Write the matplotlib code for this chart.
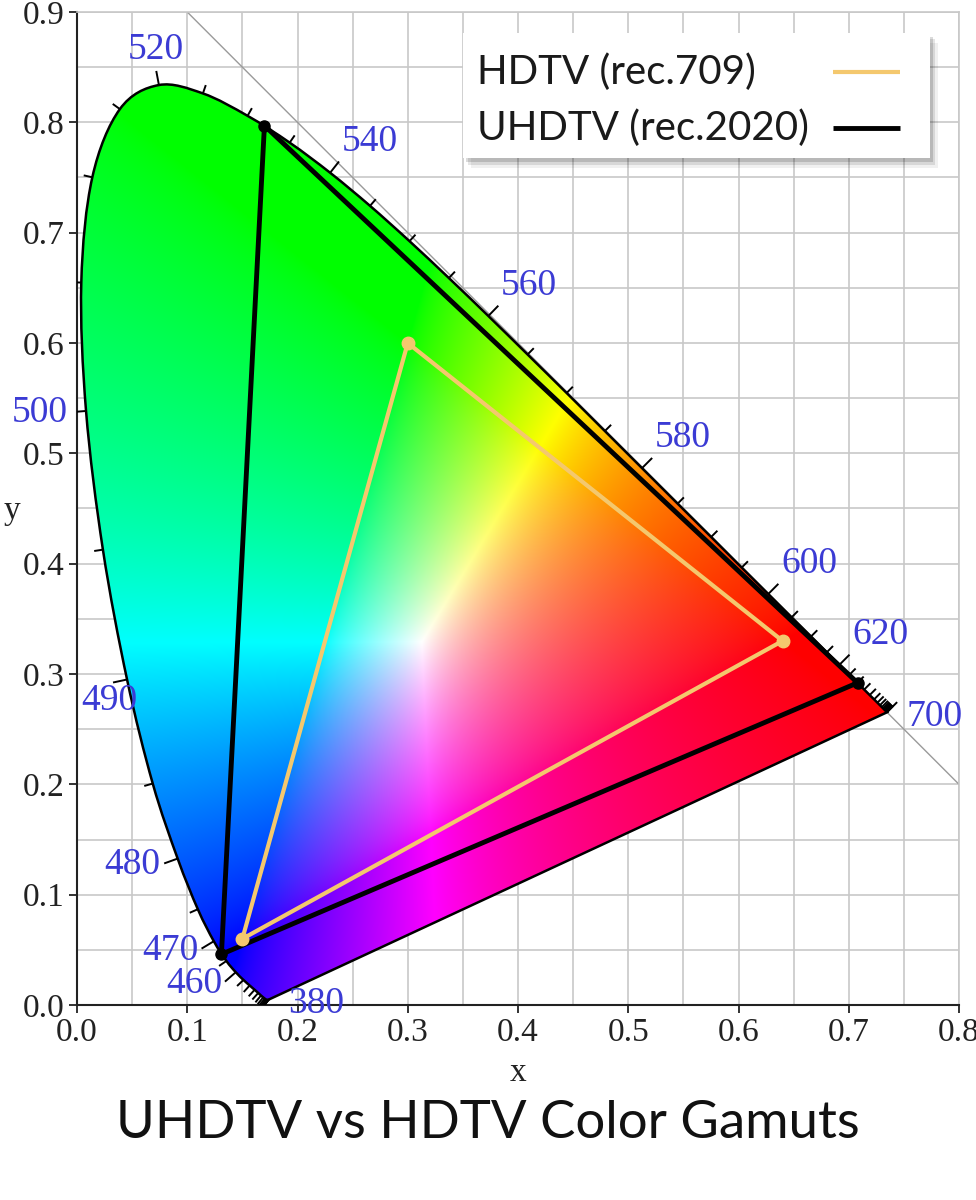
import numpy as np
import matplotlib.pyplot as plt
from matplotlib.patches import PathPatch, Rectangle
from matplotlib.path import Path
from matplotlib.ticker import MultipleLocator

# CIE 1931 spectral locus (2 deg observer), every 5 nm
wavelengths = [380, 385, 390, 395, 400, 405, 410, 415, 420, 425, 430, 435, 440,
               445, 450, 455, 460, 465, 470, 475, 480, 485, 490, 495, 500, 505,
               510, 515, 520, 525, 530, 535, 540, 545, 550, 555, 560, 565, 570,
               575, 580, 585, 590, 595, 600, 605, 610, 615, 620, 625, 630, 635,
               640, 645, 650, 655, 660, 665, 670, 675, 680, 685, 690, 695, 700]
locus_x = [0.1741, 0.1740, 0.1738, 0.1736, 0.1733, 0.1730, 0.1726, 0.1721, 0.1714,
           0.1703, 0.1689, 0.1669, 0.1644, 0.1611, 0.1566, 0.1510, 0.1440, 0.1355,
           0.1241, 0.1096, 0.0913, 0.0687, 0.0454, 0.0235, 0.0082, 0.0039, 0.0139,
           0.0389, 0.0743, 0.1142, 0.1547, 0.1929, 0.2296, 0.2658, 0.3016, 0.3373,
           0.3731, 0.4087, 0.4441, 0.4788, 0.5125, 0.5448, 0.5752, 0.6029, 0.6270,
           0.6482, 0.6658, 0.6801, 0.6915, 0.7006, 0.7079, 0.7140, 0.7190, 0.7230,
           0.7260, 0.7283, 0.7300, 0.7311, 0.7320, 0.7327, 0.7334, 0.7340, 0.7344,
           0.7346, 0.7347]
locus_y = [0.0050, 0.0050, 0.0049, 0.0049, 0.0048, 0.0048, 0.0048, 0.0048, 0.0051,
           0.0058, 0.0069, 0.0086, 0.0109, 0.0138, 0.0177, 0.0227, 0.0297, 0.0399,
           0.0578, 0.0868, 0.1327, 0.2007, 0.2950, 0.4127, 0.5384, 0.6548, 0.7502,
           0.8120, 0.8338, 0.8262, 0.8059, 0.7816, 0.7543, 0.7243, 0.6923, 0.6589,
           0.6245, 0.5896, 0.5547, 0.5202, 0.4866, 0.4544, 0.4242, 0.3965, 0.3725,
           0.3514, 0.3340, 0.3197, 0.3083, 0.2993, 0.2920, 0.2859, 0.2809, 0.2770,
           0.2740, 0.2717, 0.2700, 0.2689, 0.2680, 0.2673, 0.2666, 0.2660, 0.2656,
           0.2654, 0.2653]
labelled_nm = [380, 460, 470, 480, 490, 500, 520, 540, 560, 580, 600, 620, 700]

rec709_x = [0.64, 0.30, 0.15]
rec709_y = [0.33, 0.60, 0.06]
rec2020_x = [0.708, 0.170, 0.131]
rec2020_y = [0.292, 0.797, 0.046]
legend_labels = ['HDTV (rec.709)', 'UHDTV (rec.2020)']


def xy_to_rgb(x, y):
    y = np.maximum(y, 1e-4)
    xyz = np.stack([x / y, np.ones_like(x), (1 - x - y) / y], axis=-1)
    m = np.array([[3.2406, -1.5372, -0.4986],
                  [-0.9689, 1.8758, 0.0415],
                  [0.0557, -0.2040, 1.0570]])
    rgb = np.clip(xyz @ m.T, 0, None)
    rgb = rgb / (rgb.max(axis=-1, keepdims=True) + 1e-12)
    return np.clip(rgb ** (1 / 1.4), 0, 1)


def smooth_path(p):
    # catmull-rom through the locus points, straight purple line back
    verts = [p[0]]
    codes = [Path.MOVETO]
    for i in range(len(p) - 1):
        p0 = p[max(i - 1, 0)]
        p1, p2 = p[i], p[i + 1]
        p3 = p[min(i + 2, len(p) - 1)]
        verts += [p1 + (p2 - p0) / 6, p2 - (p3 - p1) / 6, p2]
        codes += [Path.CURVE4] * 3
    verts += [p[0], p[0]]
    codes += [Path.LINETO, Path.CLOSEPOLY]
    return Path(np.array(verts), codes)


plt.rcParams['font.family'] = ['Liberation Serif', 'DejaVu Serif']
fig = plt.figure(figsize=(9.76, 12), dpi=100)
ax = fig.add_axes([77 / 976, 1 - 1005 / 1200, 882 / 976, 993 / 1200])

# colour fill clipped to the locus
gx, gy = np.meshgrid(np.linspace(0, 0.8, 640), np.linspace(0, 0.9, 720))
pts = np.column_stack([locus_x, locus_y])
outline = PathPatch(smooth_path(pts), facecolor='none', edgecolor='black',
                    lw=1.8, zorder=3)
ax.add_patch(outline)
im = ax.imshow(xy_to_rgb(gx, gy), extent=(0, 0.8, 0, 0.9), origin='lower',
               interpolation='bilinear', aspect='auto', zorder=2)
im.set_clip_path(outline)

# x + y = 1 line
ax.plot([0.1, 0.8], [0.9, 0.2], color='#9a9a9a', lw=1.0, zorder=1.5)

# wavelength ticks and labels
n = len(pts)
blue = '#3b3bd4'
for i, nm in enumerate(wavelengths):
    p = pts[i]
    j = i
    while j < n - 1 and np.hypot(*(pts[j] - p)) < 0.03:
        j += 1
    k = i
    while k > 0 and np.hypot(*(pts[k] - p)) < 0.03:
        k -= 1
    t = pts[j] - pts[k]
    t = t / np.hypot(*t)
    nrm = np.array([-t[1], t[0]])
    big = nm in labelled_nm
    L = 0.013 if big else 0.008
    ax.plot([p[0], p[0] + L * nrm[0]], [p[1], p[1] + L * nrm[1]],
            color='black', lw=1.4, zorder=4, solid_capstyle='butt')
    if not big:
        continue
    if i == 0 or i == n - 1:
        off, ha, va = (14, -3), 'left', 'center'
    else:
        off = (nrm[0] * 13, nrm[1] * 13)
        ha = 'right' if nrm[0] < -0.5 else 'left' if nrm[0] > 0.5 else 'center'
        va = 'top' if nrm[1] < -0.68 else 'bottom' if nrm[1] > 0.68 else 'center'
        if nm == 490:
            ha, va = 'center', 'top'
    ax.annotate(str(nm), p, xytext=off, textcoords='offset points', ha=ha,
                va=va, color=blue, fontsize=27, zorder=5)

# gamut triangles
c709 = '#f4c86e'
ax.fill(rec2020_x, rec2020_y, facecolor='none', edgecolor='black', lw=3.5,
        zorder=6, joinstyle='round')
ax.plot(rec2020_x, rec2020_y, 'o', color='black', ms=8, zorder=6)
ax.fill(rec709_x, rec709_y, facecolor='none', edgecolor=c709, lw=3, zorder=7,
        joinstyle='round')
ax.plot(rec709_x, rec709_y, 'o', color=c709, ms=9, zorder=7)

ax.set_xlim(0, 0.8)
ax.set_ylim(0, 0.9)
ax.xaxis.set_major_locator(MultipleLocator(0.1))
ax.yaxis.set_major_locator(MultipleLocator(0.1))
ax.xaxis.set_minor_locator(MultipleLocator(0.05))
ax.yaxis.set_minor_locator(MultipleLocator(0.05))
ax.xaxis.set_major_formatter(lambda v, pos: f'{v:.1f}')
ax.yaxis.set_major_formatter(lambda v, pos: f'{v:.1f}')
ax.grid(which='both', color='#c8c8c8', lw=1.2, zorder=0)
ax.set_axisbelow(True)
ax.tick_params(which='major', direction='out', length=6, width=1.3,
               labelsize=24, pad=3, colors='#222222')
ax.tick_params(which='minor', length=0)
for s in ['top', 'right']:
    ax.spines[s].set_color('#c8c8c8')
    ax.spines[s].set_linewidth(1.2)
for s in ['left', 'bottom']:
    ax.spines[s].set_color('#222222')
    ax.spines[s].set_linewidth(1.5)

ax.set_xlabel('x', fontsize=24, labelpad=7, color='#222222')
ax.set_ylabel('y', fontsize=24, rotation=0, color='#222222', va='center')
ax.yaxis.set_label_coords(-0.074, 0.498)

# legend box drawn by hand so the labels stay left aligned
bx0, bx1, by0, by1 = 0.4376, 0.967, 0.853, 0.979
for d, a in [(0.009, 0.06), (0.006, 0.1), (0.0035, 0.14)]:
    ax.add_patch(Rectangle((bx0 + d, by0 - d * 1.1), bx1 - bx0, by1 - by0,
                           transform=ax.transAxes, facecolor='black', alpha=a,
                           edgecolor='none', zorder=9))
ax.add_patch(Rectangle((bx0, by0), bx1 - bx0, by1 - by0, transform=ax.transAxes,
                       facecolor='white', edgecolor='none', zorder=10))
for lab, col, lw, yy in zip(legend_labels, [c709, 'black'], [3, 3.5],
                            [0.9396, 0.8832]):
    ax.text(0.454, yy, lab, transform=ax.transAxes, ha='left', va='center',
            family='Lato', fontsize=29, color='#1a1a1a', zorder=11)
    ax.plot([0.857, 0.933], [yy, yy], transform=ax.transAxes, color=col, lw=lw,
            zorder=11, solid_capstyle='butt')

fig.text(0.5, 1 - 1123 / 1200, 'UHDTV vs HDTV Color Gamuts', ha='center',
         va='center', fontsize=38, family='Lato', color='#111111')

fig.savefig('out.png', dpi=100)
